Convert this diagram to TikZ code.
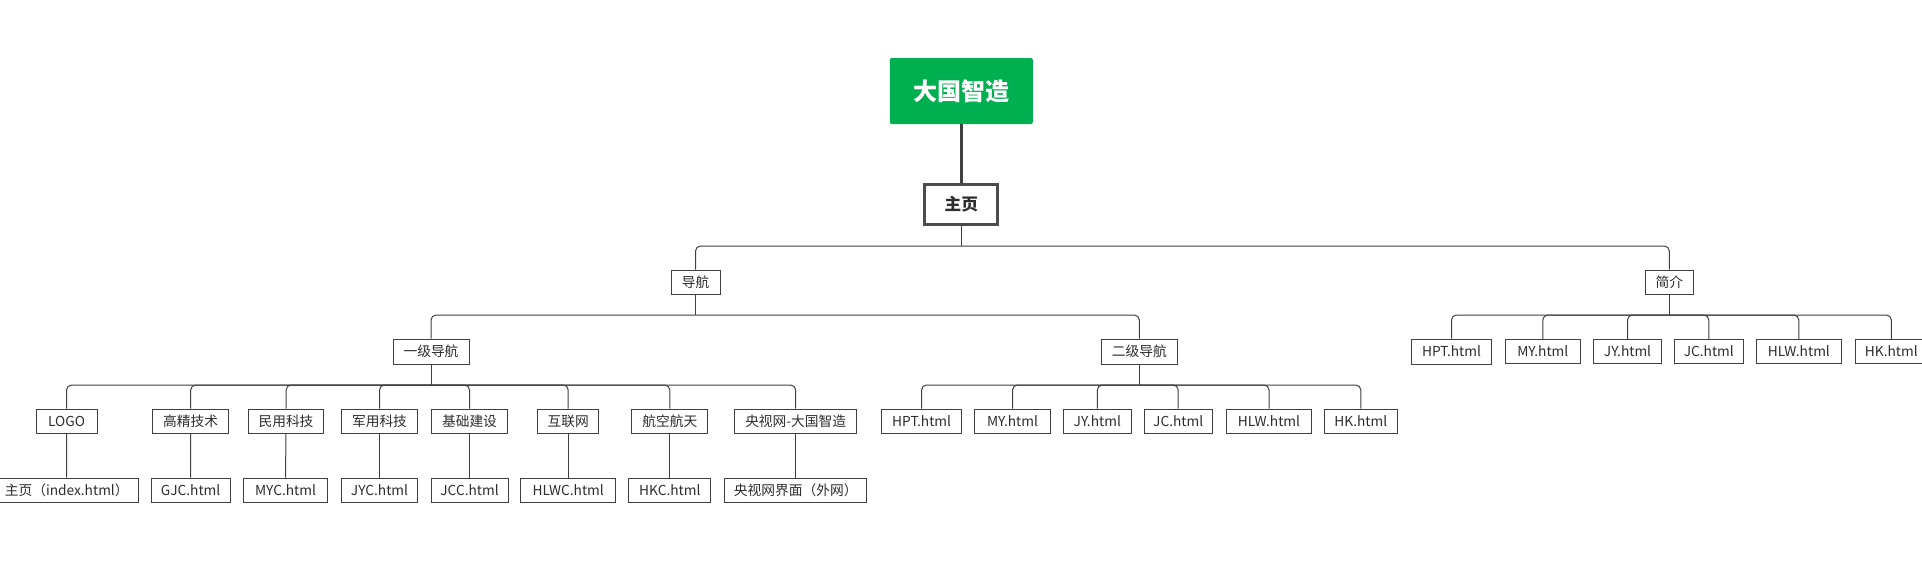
\documentclass[tikz,border=0pt]{standalone}
\usepackage{fontspec}
\setmainfont{Noto Sans CJK SC}
\definecolor{titlegreen}{RGB}{0,176,80}
\definecolor{linegray}{RGB}{64,64,64}
\definecolor{textgray}{RGB}{45,45,45}

\begin{document}
\begin{tikzpicture}[x=0.75pt, y=-0.75pt,
    box/.style={draw=linegray, line width=0.75pt, fill=white, text=textgray,
        font=\fontsize{10.3}{12}\selectfont, inner sep=0pt, minimum height=18pt},
    bw/.style={minimum width=#1*0.75pt},
    link/.style={draw=linegray, line width=0.75pt},
    fork/.style={link, rounded corners=3.75pt}]
    \useasboundingbox (0,0) rectangle (1922,561);
    \fill[white] (0,0) rectangle (1922,561);
    \clip (0,0) rectangle (1922,561);

    % Raiz
    \node[fill=titlegreen, rounded corners=1.5pt, text=white, minimum width=143*0.75pt,
        minimum height=66*0.75pt, font=\fontsize{18}{20}\selectfont\bfseries] (title) at (961.3,91) {大国智造};
    \node[draw=black!70, line width=2.25pt, fill=white, text=textgray, minimum width=73*0.75pt,
        minimum height=40*0.75pt, inner sep=0pt, font=\fontsize{12.5}{14}\selectfont\bfseries] (home) at (961.3,204.2) {主页};

    % Segundo nivel
    \node[box, bw=49] (nav) at (695.5,282) {导航};
    \node[box, bw=48.5] (intro) at (1669.3,282) {简介};
    \node[box, bw=76, minimum height=25*0.75pt] (navA) at (431,351.5) {一级导航};
    \node[box, bw=75.5, minimum height=25*0.75pt] (navB) at (1139.3,351.5) {二级导航};

    % Um nivel: paginas
    \node[box, bw=61] (logo) at (66.5,421) {LOGO};
    \node[box, bw=75.5] (gjjs) at (190.7,421) {高精技术};
    \node[box, bw=75] (myk) at (286,421) {民用科技};
    \node[box, bw=76] (jyk) at (379.5,421) {军用科技};
    \node[box, bw=76.5] (jcjs) at (469.5,421) {基础建设};
    \node[box, bw=61.5] (hlw) at (568.2,421) {互联网};
    \node[box, bw=75.7] (hkht) at (669.8,421) {航空航天};
    \node[box, bw=121.6] (ysw) at (795.7,421) {央视网-大国智造};

    \node[box, bw=142.6] (idx) at (66.7,490) {主页（index.html）};
    \node[box, bw=79] (gjc) at (190.6,490) {GJC.html};
    \node[box, bw=84] (myc) at (285.5,490) {MYC.html};
    \node[box, bw=75.5] (jyc) at (379.5,490) {JYC.html};
    \node[box, bw=77] (jcc) at (469.5,490) {JCC.html};
    \node[box, bw=94.6] (hlwc) at (568.2,490) {HLWC.html};
    \node[box, bw=82] (hkc) at (669.8,490) {HKC.html};
    \node[box, bw=142.3] (yswjm) at (795.7,490) {央视网界面（外网）};

    % Dois nivel
    \node[box, bw=80] (bHPT) at (921.6,421) {HPT.html};
    \node[box, bw=76] (bMY) at (1012.5,421) {MY.html};
    \node[box, bw=68.6] (bJY) at (1097.3,421) {JY.html};
    \node[box, bw=67.6] (bJC) at (1178.2,421) {JC.html};
    \node[box, bw=84.6] (bHLW) at (1269,421) {HLW.html};
    \node[box, bw=73] (bHK) at (1360.8,421) {HK.html};

    % Introducao
    \node[box, bw=80, minimum height=25*0.75pt] (iHPT) at (1451.5,351.5) {HPT.html};
    \node[box, bw=75] (iMY) at (1542.8,351.5) {MY.html};
    \node[box, bw=68] (iJY) at (1627.5,351.5) {JY.html};
    \node[box, bw=69] (iJC) at (1708.8,351.5) {JC.html};
    \node[box, bw=85] (iHLW) at (1798.8,351.5) {HLW.html};
    \node[box, bw=72] (iHK) at (1891.3,351.5) {HK.html};

    % Ligacoes
    \draw[draw=linegray, line width=2.25pt] (title) -- (home);
    \coordinate (homeBar) at (961.3,246);
    \coordinate (navBar) at (695.5,315);
    \coordinate (introBar) at (1669.3,315);
    \coordinate (navABar) at (431,385);
    \coordinate (navBBar) at (1139.3,385);

    \draw[link] (home) -- (homeBar);
    \draw[fork] (homeBar) -| (nav);
    \draw[fork] (homeBar) -| (intro);

    \draw[link] (nav) -- (navBar);
    \draw[fork] (navBar) -| (navA);
    \draw[fork] (navBar) -| (navB);

    \draw[link] (navA) -- (navABar);
    \foreach \c in {logo,gjjs,myk,jyk,jcjs,hlw,hkht,ysw}
        \draw[fork] (navABar) -| (\c);
    \foreach \a/\b in {logo/idx,gjjs/gjc,myk/myc,jyk/jyc,jcjs/jcc,hlw/hlwc,hkht/hkc,ysw/yswjm}
        \draw[link] (\a) -- (\b);

    \draw[link] (navB) -- (navBBar);
    \foreach \c in {bHPT,bMY,bJY,bJC,bHLW,bHK}
        \draw[fork] (navBBar) -| (\c);

    \draw[link] (intro) -- (introBar);
    \foreach \c in {iHPT,iMY,iJY,iJC,iHLW,iHK}
        \draw[fork] (introBar) -| (\c);
\end{tikzpicture}
\end{document}
